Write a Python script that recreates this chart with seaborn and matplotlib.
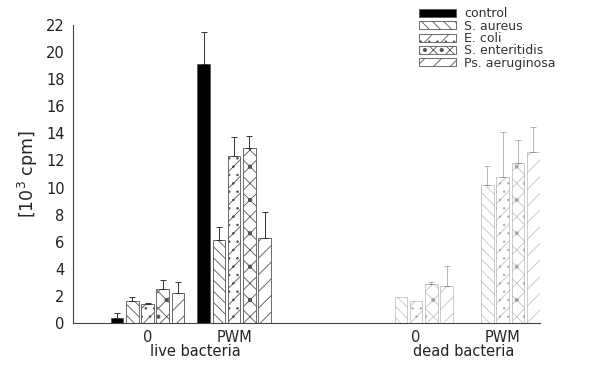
#!/usr/bin/env python3
"""lymphocyte proliferation (cpm) after stimulation with live / dead bacteria"""
import matplotlib
matplotlib.use("Agg")
import matplotlib.pyplot as plt
import matplotlib.transforms as mtransforms
import pandas as pd
import seaborn as sns

# conditions along the x axis
state = ["live bacteria", "live bacteria", "dead bacteria", "dead bacteria"]
stimulus = ["0", "PWM", "0", "PWM"]

bacteria = ["control", "S. aureus", "E. coli", "S. enteritidis", "Ps. aeruginosa"]

# mean values [10^3 cpm], one entry per condition
control = [0.4, 19.1, 0.0, 0.0]
s_aureus = [1.6, 6.1, 1.9, 10.2]
e_coli = [1.4, 12.3, 1.6, 10.8]
s_enteritidis = [2.5, 12.9, 2.9, 11.8]
ps_aeruginosa = [2.2, 6.3, 2.7, 12.6]

# upper error bars [10^3 cpm]
control_err = [0.35, 2.4, 0.0, 0.0]
s_aureus_err = [0.3, 1.0, 0.0, 1.4]
e_coli_err = [0.05, 1.4, 0.0, 3.3]
s_enteritidis_err = [0.7, 0.9, 0.1, 1.7]
ps_aeruginosa_err = [0.8, 1.9, 1.5, 1.9]

means = [control, s_aureus, e_coli, s_enteritidis, ps_aeruginosa]
errors = [control_err, s_aureus_err, e_coli_err, s_enteritidis_err, ps_aeruginosa_err]

# x position of each condition: dead bacteria shifted right by an extra gap
group_gap = 1.1
positions = [i + (group_gap if s == "dead bacteria" else 0) for i, s in enumerate(state)]

rows = []
for name, vals in zip(bacteria, means):
    for pos, v in zip(positions, vals):
        rows.append({"pos": pos, "bacteria": name, "cpm": v})
df = pd.DataFrame(rows)

sns.set_style("white")
plt.rcParams["font.family"] = ["DejaVu Sans"]
plt.rcParams["hatch.linewidth"] = 0.6
plt.rcParams["hatch.color"] = "#333333"

fig = plt.figure(figsize=(5.96, 3.66), dpi=100)
ax = fig.add_axes([0.1225, 0.1175, 0.7835, 0.8142])

palette = {"control": "black", "S. aureus": "white", "E. coli": "white",
           "S. enteritidis": "white", "Ps. aeruginosa": "white"}
sns.barplot(data=df, x="pos", y="cpm", hue="bacteria", hue_order=bacteria,
            palette=palette, native_scale=True, width=0.88, gap=0.17,
            errorbar=None, edgecolor="#555555", linewidth=0.6, ax=ax)

bar_containers = list(ax.containers)
hatches = ["", "\\\\\\", "//..", "xx.", "//"]
for cont, hatch, errs in zip(bar_containers, hatches, errors):
    for bar, err in zip(cont.patches, errs):
        bar.set_hatch(hatch)
        dead = bar.get_x() > positions[1] + 0.5
        if dead:
            bar.set_alpha(0.35)
        if err > 0:
            ax.errorbar(bar.get_x() + bar.get_width() / 2, bar.get_height(),
                        yerr=[[0], [err]], fmt="none", ecolor="#333333",
                        elinewidth=0.7, capsize=2.5, capthick=0.7,
                        alpha=0.35 if dead else 1.0)

ax.set_xlim(positions[0] - 0.86, positions[-1] + 0.43)
ax.set_ylim(0, 22)
ax.set_yticks(range(0, 23, 2))
ax.set_xticks(positions)
ax.set_xticklabels(stimulus)
ax.tick_params(axis="x", length=0, labelsize=10.5, pad=5)
ax.tick_params(axis="y", direction="in", length=3, width=0.7,
               labelsize=10.5, pad=6, colors="#222222")
ax.set_xlabel("")
ax.set_ylabel("[10$^3$ cpm]", fontsize=12.5, labelpad=4)
sns.despine(ax=ax)
for side in ["left", "bottom"]:
    ax.spines[side].set_color("#444444")
    ax.spines[side].set_linewidth(0.8)

# group labels under the tick labels
trans = mtransforms.blended_transform_factory(ax.transData, ax.transAxes)
for label in ["live bacteria", "dead bacteria"]:
    xs = [p for p, s in zip(positions, state) if s == label]
    ax.text(sum(xs) / len(xs) + 0.05, -0.097, label, transform=trans,
            ha="center", va="center", fontsize=10.5, color="#222222")

handles = [cont.patches[0] for cont in bar_containers]
ax.get_legend().remove()
fig.legend(handles, bacteria, loc="upper left",
           bbox_to_anchor=(413 / 596, 1 - 1 / 366), frameon=False,
           fontsize=9, handlelength=2.9, handleheight=0.6,
           labelspacing=-0.05, handletextpad=0.7, borderpad=0,
           labelcolor="#333333")

fig.savefig("out.png", dpi=100)
